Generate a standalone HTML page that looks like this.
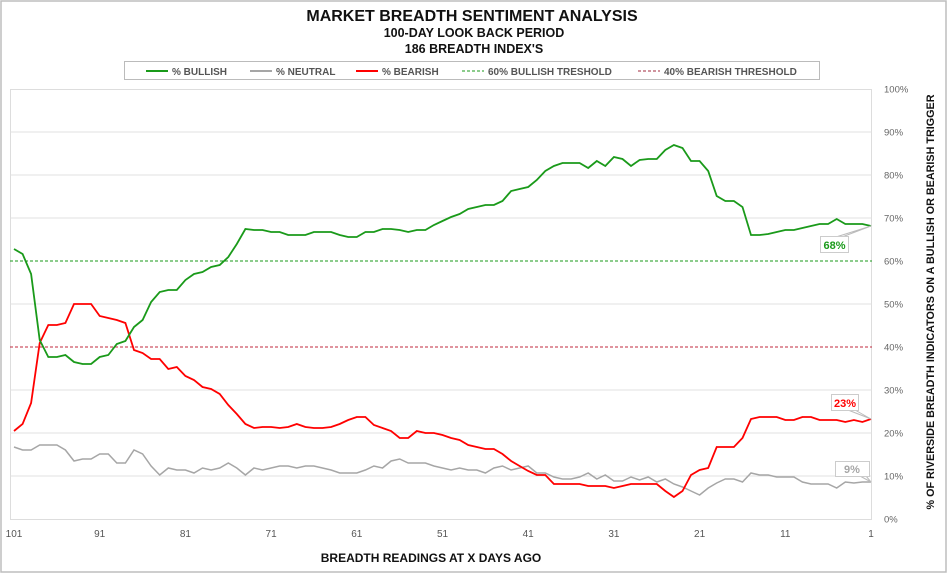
<!DOCTYPE html>
<html><head><meta charset="utf-8"><style>
body{margin:0;background:#fff;}
svg{display:block;font-family:"Liberation Sans",sans-serif;}
</style></head><body>
<svg id="s" width="948" height="574" viewBox="0 0 948 574" xmlns="http://www.w3.org/2000/svg">
<rect x="1" y="1" width="945" height="571" fill="#fff" stroke="#bdbdbd" stroke-width="1.5"/>
<text x="472" y="21" text-anchor="middle" font-size="16" font-weight="900" fill="#111">MARKET BREADTH SENTIMENT ANALYSIS</text>
<text x="474" y="37" text-anchor="middle" font-size="12.5" font-weight="900" fill="#111">100-DAY LOOK BACK PERIOD</text>
<text x="474" y="53" text-anchor="middle" font-size="12.5" font-weight="900" fill="#111">186 BREADTH INDEX'S</text>
<rect x="124.5" y="61.5" width="695" height="18" fill="#fff" stroke="#bbb"/>
<g font-size="10" font-weight="bold" fill="#555">
<line x1="146" y1="71" x2="168" y2="71" stroke="#1a9a1a" stroke-width="2"/><text x="172" y="75">% BULLISH</text>
<line x1="250" y1="71" x2="272" y2="71" stroke="#a6a6a6" stroke-width="2"/><text x="276" y="75">% NEUTRAL</text>
<line x1="356" y1="71" x2="378" y2="71" stroke="#ff0000" stroke-width="2"/><text x="382" y="75">% BEARISH</text>
<line x1="462" y1="71" x2="484" y2="71" stroke="#1a9a1a" stroke-dasharray="3,2"/><text x="488" y="75">60% BULLISH TRESHOLD</text>
<line x1="638" y1="71" x2="660" y2="71" stroke="#a0283c" stroke-dasharray="3,2"/><text x="664" y="75">40% BEARISH THRESHOLD</text>
</g>
<rect x="10.5" y="89.5" width="861" height="430" fill="none" stroke="#ddd"/>
<g id="grid" stroke="#e0e0e0" stroke-width="1"></g>
<line x1="10" y1="261" x2="872" y2="261" stroke="#1a9a1a" stroke-dasharray="3,2"/>
<line x1="10" y1="347" x2="872" y2="347" stroke="#c0283c" stroke-dasharray="3,2"/>
<g id="ylab" font-size="9.5" fill="#666"></g>
<g id="xlab" font-size="10" fill="#555" text-anchor="middle"></g>
<polyline id="gr" fill="none" stroke="#a6a6a6" stroke-width="1.5"/>
<polyline id="rd" fill="none" stroke="#ff0000" stroke-width="1.8"/>
<polyline id="gn" fill="none" stroke="#1a9a1a" stroke-width="1.8"/>
<text x="431" y="562" text-anchor="middle" font-size="12" font-weight="900" fill="#111">BREADTH READINGS AT X DAYS AGO</text>
<text transform="translate(934,302) rotate(-90)" text-anchor="middle" font-size="11" font-weight="900" fill="#111" textLength="415" lengthAdjust="spacingAndGlyphs">% OF RIVERSIDE BREADTH INDICATORS ON A BULLISH OR BEARISH TRIGGER</text>
<polyline points="836,237 871,226 842,237" fill="#fff" stroke="#bbb"/>
<rect x="820.5" y="236.5" width="28" height="16" fill="#fff" stroke="#ccc"/>
<text x="834.5" y="249" text-anchor="middle" font-size="11" font-weight="900" fill="#1a9a1a">68%</text>
<polyline points="848,410 871,419 855,410" fill="#fff" stroke="#bbb"/>
<rect x="831.5" y="394.5" width="27" height="16" fill="#fff" stroke="#ccc"/>
<text x="845" y="407" text-anchor="middle" font-size="11" font-weight="900" fill="#ff0000">23%</text>
<polyline points="860,476 871,482 866,476" fill="#fff" stroke="#bbb"/>
<rect x="835.5" y="461.5" width="34" height="15" fill="#fff" stroke="#ccc"/>
<text x="852" y="473" text-anchor="middle" font-size="11" font-weight="900" fill="#a6a6a6">9%</text>
</svg>
<script>
var NS="http://www.w3.org/2000/svg";
function el(p,t,a,txt){var e=document.createElementNS(NS,t);for(var k in a)e.setAttribute(k,a[k]);if(txt!==undefined)e.textContent=txt;document.getElementById(p).appendChild(e);}
for(var i=1;i<=9;i++){var y=519-i*43;if(i==6||i==4)continue;el("grid","line",{x1:10,x2:872,y1:y,y2:y});}
for(var i=0;i<=10;i++){el("ylab","text",{x:884,y:519-i*43+3.5},(i*10)+"%");}
[101,91,81,71,61,51,41,31,21,11,1].forEach(function(d){el("xlab","text",{x:14+(101-d)*8.57,y:537},d);});
var G=[249,254,274,340,357,357,355,362,364,364,357,355,344,341,327,320,302,292,290,290,280,274,272,267,265,257,244,229,230,230,232,232,235,235,235,232,232,232,235,237,237,232,232,229,229,230,232,230,230,225,221,217,214,209,207,205,205,201,191,189,187,180,171,166,163,163,163,168,161,166,157,159,166,160,159,159,150,145,148,161,161,171,196,201,201,207,235,235,234,232,230,230,228,226,224,224,219,224,224,224,226];
var R=[431,424,403,343,325,325,323,304,304,304,316,318,320,323,350,353,359,359,369,367,376,380,387,389,394,405,414,424,428,427,427,428,427,424,427,428,428,427,424,420,417,417,425,428,431,438,438,431,433,433,435,438,440,445,447,449,449,454,461,466,471,475,475,484,484,484,484,486,486,486,488,486,484,484,484,484,491,497,491,475,470,468,447,447,447,438,419,417,417,417,420,420,417,417,420,420,420,422,420,422,419];
var N=[447,450,450,445,445,445,450,461,459,459,454,454,463,463,450,454,466,475,468,470,470,473,468,470,468,463,468,475,468,470,468,466,466,468,466,466,468,470,473,473,473,470,466,468,461,459,463,463,463,466,468,470,468,470,470,473,468,466,470,468,466,473,473,477,479,479,477,473,479,475,481,481,477,480,477,482,479,484,487,491,495,488,483,479,479,482,473,475,475,477,477,477,482,484,484,484,488,482,483,482,482];
function pts(a){return a.map(function(y,i){return (14+i*8.57).toFixed(1)+","+y;}).join(" ");}
document.getElementById("gn").setAttribute("points",pts(G));
document.getElementById("rd").setAttribute("points",pts(R));
document.getElementById("gr").setAttribute("points",pts(N));
</script>
</body></html>
